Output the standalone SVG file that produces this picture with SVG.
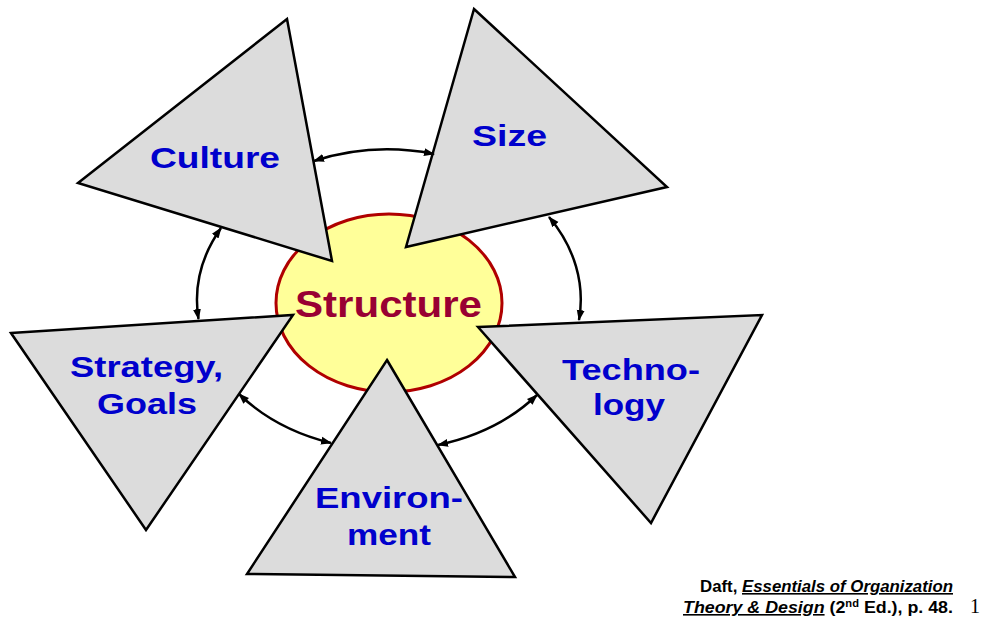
<svg xmlns="http://www.w3.org/2000/svg" width="982" height="619" viewBox="0 0 982 619">
<defs>
<style>
.tri{fill:#dcdcdc;stroke:#000;stroke-width:2.5;stroke-linejoin:miter}
.lbl{font-family:"Liberation Sans",Arial,sans-serif;font-weight:bold;font-size:30px;fill:#0000cc}
.ctr{font-family:"Liberation Sans",Arial,sans-serif;font-weight:bold;font-size:36px;fill:#990033}
.arc{fill:none;stroke:#000;stroke-width:2.5;marker-start:url(#ah);marker-end:url(#ah)}
.cite{font-family:"Liberation Sans",Arial,sans-serif;font-weight:bold;font-size:16px;fill:#000}
</style>
<marker id="ah" markerUnits="userSpaceOnUse" markerWidth="12" markerHeight="10" refX="10" refY="4" orient="auto-start-reverse" viewBox="0 0 12 8">
<path d="M0,0 L11,4 L0,8 z" fill="#000"/>
</marker>
</defs>
<rect width="982" height="619" fill="#fff"/>
<g id="structure">
<ellipse cx="389" cy="303" rx="113" ry="89" fill="#ffff99" stroke="#b00000" stroke-width="3"/>
</g>
<g id="culture">
<polygon class="tri" points="78,183 287,19 332,261"/>
<text class="lbl" x="150" y="168" textLength="130" lengthAdjust="spacingAndGlyphs">Culture</text>
</g>
<g id="size">
<polygon class="tri" points="474,9 667,187 406,247"/>
<text class="lbl" x="472" y="146" textLength="75" lengthAdjust="spacingAndGlyphs">Size</text>
</g>
<g id="strategy">
<polygon class="tri" points="11,333 293,315 146,530"/>
<text class="lbl" x="70" y="377" textLength="153" lengthAdjust="spacingAndGlyphs">Strategy,</text>
<text class="lbl" x="97" y="414" textLength="100" lengthAdjust="spacingAndGlyphs">Goals</text>
</g>
<g id="technology">
<polygon class="tri" points="478,327 762,315 651,523"/>
<text class="lbl" x="562" y="380" textLength="138" lengthAdjust="spacingAndGlyphs">Techno-</text>
<text class="lbl" x="593" y="415" textLength="72" lengthAdjust="spacingAndGlyphs">logy</text>
</g>
<g id="environment">
<polygon class="tri" points="387,360 515,577 247,574"/>
<text class="lbl" x="315" y="508" textLength="148" lengthAdjust="spacingAndGlyphs">Environ-</text>
<text class="lbl" x="347" y="545" textLength="84" lengthAdjust="spacingAndGlyphs">ment</text>
</g>
<g id="structure-label">
<text class="ctr" x="295" y="317" textLength="187" lengthAdjust="spacingAndGlyphs">Structure</text>
</g>
<g id="connectors">
<path class="arc" d="M314,161 A192,150 0 0 1 434,154"/>
<path class="arc" d="M549,217 A192,150 0 0 1 579,320"/>
<path class="arc" d="M537,395 A192,150 0 0 1 438,445"/>
<path class="arc" d="M331,443 A192,150 0 0 1 239,394"/>
<path class="arc" d="M198.5,319 A192,150 0 0 1 221,228"/>
</g>
<g id="citation">
<text class="cite" x="700" y="592" textLength="253" lengthAdjust="spacingAndGlyphs">Daft, <tspan font-style="italic" text-decoration="underline">Essentials of Organization</tspan></text>
<text class="cite" x="683" y="613" textLength="270" lengthAdjust="spacingAndGlyphs"><tspan font-style="italic" text-decoration="underline">Theory &amp; Design</tspan> (2<tspan font-size="10" dy="-6">nd</tspan><tspan dy="6"> Ed.), p. 48.</tspan></text>
<text x="970" y="613" font-family="'Liberation Serif','Times New Roman',serif" font-size="20" fill="#000">1</text>
</g>
</svg>
